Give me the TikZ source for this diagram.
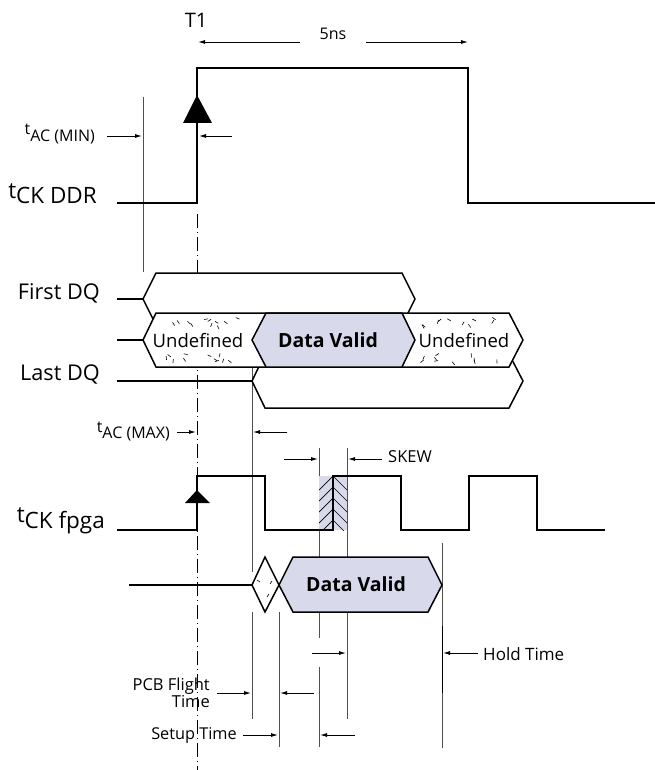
\documentclass[tikz,border=0pt]{standalone}
\usepackage{fontspec}
\setmainfont{Open Sans}
\usetikzlibrary{arrows.meta}
\definecolor{dv}{RGB}{216,218,236}
\definecolor{guidec}{RGB}{80,80,80}
\newcommand{\myfs}[1]{\fontsize{#1}{#1}\selectfont}
\begin{document}
\begin{tikzpicture}[x=1pt,y=-1pt,
  sig/.style={line width=1.7pt, line join=miter},
  box/.style={line width=1.5pt, line join=miter},
  lead/.style={line width=1.1pt},
  guide/.style={line width=1pt, draw=guidec},
  dim/.style={line width=0.9pt, -{Latex[length=7pt,width=4pt]}},
  speck/.style={line width=0.6pt},
  lbl/.style={inner sep=0pt, text=black}]
\useasboundingbox (0,0) rectangle (655,770);

% reference dashed line at T1
\draw[line width=1pt, dash pattern=on 14pt off 4pt on 1pt off 4pt] (197,214) -- (197,770);

% guide lines
\draw[guide] (143,97) -- (143,272);
\draw[guide] (252,367) -- (252,572);
\draw[guide] (252,612) -- (252,719);
\draw[guide] (279,612) -- (279,747);
\draw[guide] (319,448) -- (319,557);
\draw[guide] (319,613) -- (319,638);
\draw[guide] (319,667) -- (319,747);
\draw[guide] (347,448) -- (347,557);
\draw[guide] (347,613) -- (347,719);
\draw[guide] (442,543) -- (442,748);
\draw[line width=1pt] (442,626) -- (442,693);

% Last DQ
\draw[lead] (117,381) -- (252,381);
\draw[box, fill=white] (252,381) -- (265,354) -- (509,354) -- (523,381) -- (509,408) -- (265,408) -- cycle;
% First DQ
\draw[lead] (117,299) -- (143,299);
\draw[box, fill=white] (143,299) -- (156,273) -- (402,273) -- (415,299) -- (402,325) -- (156,325) -- cycle;
% middle row
\draw[lead] (117,340) -- (143,340);
\draw[box, fill=white] (143,340) -- (156,313) -- (509,313) -- (523,340) -- (509,367) -- (156,367) -- cycle;
\draw[box, fill=dv] (252,340) -- (266,313) -- (402,313) -- (415,340) -- (402,367) -- (266,367) -- cycle;

% speckles in undefined regions
\pgfmathsetseed{11}
\foreach \i in {1,...,11}{
  \pgfmathsetmacro\xx{162+rnd*84}\pgfmathsetmacro\yy{317+rnd*9}\pgfmathsetmacro\aa{rnd*180}
  \draw[speck] (\xx,\yy) -- ++(\aa:4);
  \pgfmathsetmacro\xx{162+rnd*84}\pgfmathsetmacro\yy{353+rnd*9}\pgfmathsetmacro\aa{rnd*180}
  \draw[speck] (\xx,\yy) -- ++(\aa:4);
}
\foreach \i in {1,...,10}{
  \pgfmathsetmacro\xx{422+rnd*82}\pgfmathsetmacro\yy{317+rnd*9}\pgfmathsetmacro\aa{rnd*180}
  \draw[speck] (\xx,\yy) -- ++(\aa:4);
  \pgfmathsetmacro\xx{422+rnd*82}\pgfmathsetmacro\yy{353+rnd*9}\pgfmathsetmacro\aa{rnd*180}
  \draw[speck] (\xx,\yy) -- ++(\aa:4);
}

% lower data
\draw[lead] (129,585) -- (252,585);
\draw[box, fill=white] (252,585) -- (265,557) -- (279,585) -- (265,612) -- cycle;
\draw[speck] (257,580) -- ++(3,2);
\draw[speck] (272,581) -- ++(-2,3);
\draw[speck] (269,594) -- ++(-2,3);
\draw[box, fill=dv] (279,585) -- (293,557) -- (428,557) -- (442,585) -- (428,612) -- (293,612) -- cycle;

% skew hatched region
\begin{scope}
  \clip (319,476) rectangle (347,530);
  \fill[dv] (319,476) rectangle (347,530);
  \foreach \k in {0,...,5}{
    \draw[line width=0.7pt] (319,476+\k*11+14) -- (333,476+\k*11) -- (347,476+\k*11+14);
  }
\end{scope}

% DDR clock
\draw[sig] (117,203) -- (197,203) -- (197,68) -- (468,68) -- (468,203) -- (655,203);
\fill (197,95) -- (183,123) -- (212,123) -- cycle;

% FPGA clock
\draw[sig] (117,530) -- (197,530) -- (197,476) -- (265,476) -- (265,530) -- (333,530) -- (333,476) -- (401,476) -- (401,530) -- (469,530) -- (469,476) -- (537,476) -- (537,530) -- (605,530);
\fill (197,490) -- (185,503) -- (210,503) -- cycle;

% dimension arrows
\draw[dim] (300,42) -- (198,42);
\draw[dim] (366,42) -- (468,42);
\draw[dim] (107,136) -- (142,136);
\draw[dim] (232,136) -- (199,136);
\draw[dim] (177,432) -- (196,432);
\draw[dim] (287,432) -- (253,432);
\draw[dim] (284,459) -- (318,459);
\draw[dim] (382,459) -- (348,459);
\draw[dim] (478,653) -- (443,653);
\draw[dim] (312,653) -- (346,653);
\draw[dim] (217,693) -- (251,693);
\draw[dim] (314,693) -- (280,693);
\draw[dim] (243,735) -- (278,735);
\draw[dim] (355,735) -- (320,735);

% labels
\node[lbl, font=\myfs{20}, anchor=base] (t1) at (196,28) {T1};
\node[lbl, font=\myfs{16}, anchor=base] (ns) at (333,40) {5ns};
\node[lbl, font=\myfs{16}, anchor=base east] (acmin) at (95,142) {\raisebox{7pt}{t}AC (MIN)};
\node[lbl, font=\myfs{22.5}, anchor=base east] (ckddr) at (97,203) {\raisebox{5pt}{t}CK DDR};
\node[lbl, font=\myfs{21.7}, anchor=base east] (fdq) at (100,299) {First DQ};
\node[lbl, font=\myfs{21.7}, anchor=base east] (ldq) at (100,380) {Last DQ};
\node[lbl, font=\myfs{18.5}, anchor=base] (und1) at (198,347) {Undefined};
\node[lbl, font=\myfs{18.5}, anchor=base] (und2) at (464,347) {Undefined};
\node[lbl, font=\myfs{19.5}\bfseries, anchor=base] (dv1) at (328,347) {Data Valid};
\node[lbl, font=\myfs{16}, anchor=base east] (acmax) at (170,438) {\raisebox{6pt}{t}AC (MAX)};
\node[lbl, font=\myfs{16.5}, anchor=base west] (skew) at (388,462) {SKEW};
\node[lbl, font=\myfs{22.5}, anchor=base east] (ckf) at (105,528) {\raisebox{6pt}{t}CK fpga};
\node[lbl, font=\myfs{19.5}\bfseries, anchor=base] (dv2) at (356,591) {Data Valid};
\node[lbl, font=\myfs{17}, anchor=base west] (hold) at (483,660) {Hold Time};
\node[lbl, font=\myfs{16.5}, anchor=base east] (pcb1) at (210,690) {PCB Flight};
\node[lbl, font=\myfs{16.5}, anchor=base east] (pcb2) at (210,707) {Time};
\node[lbl, font=\myfs{16.3}, anchor=base east] (setup) at (237,739) {Setup Time};
\end{tikzpicture}
\end{document}
